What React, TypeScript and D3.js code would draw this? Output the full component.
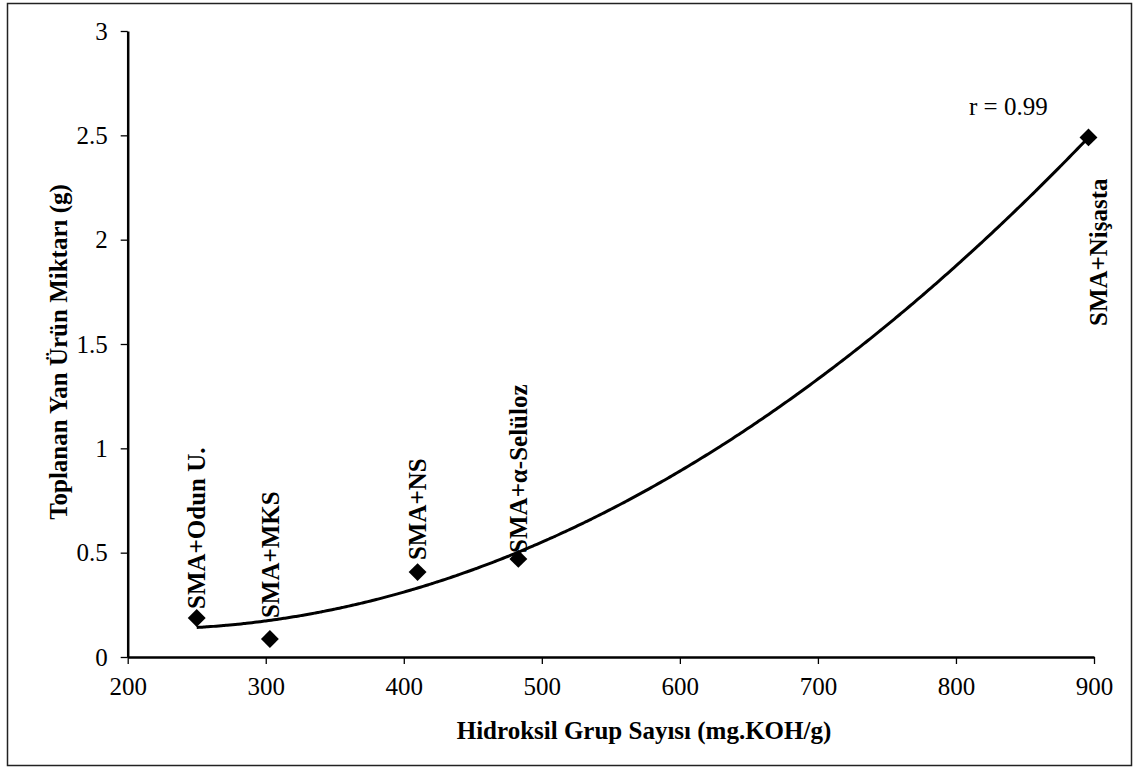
import React, { useEffect, useRef } from 'react';
import * as d3 from 'd3';

// sample labels and measured values
const sampleNames = ['SMA+Odun U.', 'SMA+MKS', 'SMA+NS', 'SMA+\u03B1-Selüloz', 'SMA+Nişasta'];
const hydroxylValues = [250, 303, 410, 483, 896];
const byproductValues = [0.187, 0.086, 0.407, 0.47, 2.49];

const xTicks = [200, 300, 400, 500, 600, 700, 800, 900];
const yTicks = [0, 0.5, 1, 1.5, 2, 2.5, 3];

// label placement (px gap from marker, negative = below the marker)
const labelGap = [9, 21, 12, 6, -41];
const labelDx = [0, 1, 0, 0, 10];

const FONT = '"Liberation Serif", "Times New Roman", serif';

// least squares polynomial of order 2, like the spreadsheet trendline
function quadFit(xs: number[], ys: number[]) {
    const n = xs.length;
    let s = [0, 0, 0, 0, 0];
    let t = [0, 0, 0];
    for (let i = 0; i < n; i++) {
        for (let k = 0; k < 5; k++) s[k] += Math.pow(xs[i], k);
        for (let k = 0; k < 3; k++) t[k] += ys[i] * Math.pow(xs[i], k);
    }
    const m = [
        [s[0], s[1], s[2], t[0]],
        [s[1], s[2], s[3], t[1]],
        [s[2], s[3], s[4], t[2]],
    ];
    for (let c = 0; c < 3; c++) {
        for (let r = c + 1; r < 3; r++) {
            const f = m[r][c] / m[c][c];
            for (let k = c; k < 4; k++) m[r][k] -= f * m[c][k];
        }
    }
    const coef = [0, 0, 0];
    for (let r = 2; r >= 0; r--) {
        let v = m[r][3];
        for (let k = r + 1; k < 3; k++) v -= m[r][k] * coef[k];
        coef[r] = v / m[r][r];
    }
    return (x: number) => coef[0] + coef[1] * x + coef[2] * x * x;
}

export default function App() {
    const ref = useRef<SVGSVGElement | null>(null);

    useEffect(() => {
        const width = 1133;
        const height = 768;
        const svg = d3.select(ref.current);
        svg.selectAll('*').remove();

        const xScale = d3.scaleLinear().domain([200, 900]).range([127.7, 1094]);
        const yScale = d3.scaleLinear().domain([0, 3]).range([657, 31]);

        // outer frame
        svg.append('rect')
            .attr('x', 7.5).attr('y', 3.5)
            .attr('width', width - 9).attr('height', height - 6)
            .attr('fill', 'white')
            .attr('stroke', '#222')
            .attr('stroke-width', 1.5);

        // Y axis
        const yAxis = svg.append('g')
            .attr('transform', `translate(${xScale(200)}, 0)`)
            .call(d3.axisLeft(yScale)
                .tickValues(yTicks)
                .tickFormat(d => String(d))
                .tickSize(7)
                .tickSizeOuter(0)
                .tickPadding(13));
        yAxis.select('.domain').attr('stroke', 'black').attr('stroke-width', 2.5);
        yAxis.selectAll('.tick line').attr('stroke', 'black').attr('stroke-width', 1.3);
        yAxis.selectAll('.tick text')
            .style('font-size', '25px')
            .style('font-family', FONT)
            .attr('fill', 'black');

        // X axis
        const xAxis = svg.append('g')
            .attr('transform', `translate(0, ${yScale(0)})`)
            .call(d3.axisBottom(xScale)
                .tickValues(xTicks)
                .tickFormat(d => String(d))
                .tickSize(7)
                .tickSizeOuter(0)
                .tickPadding(13));
        xAxis.select('.domain').attr('stroke', 'black').attr('stroke-width', 2.5);
        xAxis.selectAll('.tick line').attr('stroke', 'black').attr('stroke-width', 1.3);
        xAxis.selectAll('.tick text')
            .style('font-size', '25px')
            .style('font-family', FONT)
            .attr('fill', 'black');

        // axis titles
        svg.append('text')
            .attr('x', 644)
            .attr('y', 739)
            .attr('text-anchor', 'middle')
            .style('font-size', '25px')
            .style('font-weight', 'bold')
            .style('font-family', FONT)
            .text('Hidroksil Grup Sayısı (mg.KOH/g)');

        svg.append('text')
            .attr('transform', 'translate(67, 352) rotate(-90)')
            .attr('text-anchor', 'middle')
            .style('font-size', '25px')
            .style('font-weight', 'bold')
            .style('font-family', FONT)
            .text('Toplanan Yan Ürün Miktarı (g)');

        // trendline
        const fit = quadFit(hydroxylValues, byproductValues);
        const xMin = d3.min(hydroxylValues) as number;
        const xMax = d3.max(hydroxylValues) as number;
        const curveX = d3.range(xMin, xMax, 2).concat([xMax]);
        const line = d3.line<number>()
            .x(d => xScale(d))
            .y(d => yScale(fit(d)))
            .curve(d3.curveMonotoneX);
        svg.append('path')
            .datum(curveX)
            .attr('d', line)
            .attr('fill', 'none')
            .attr('stroke', 'black')
            .attr('stroke-width', 3);

        // markers
        const diamond = d3.symbol().type(d3.symbolSquare).size(160);
        svg.selectAll('path.marker')
            .data(hydroxylValues)
            .enter()
            .append('path')
            .attr('class', 'marker')
            .attr('d', diamond)
            .attr('transform', (d, i) => `translate(${xScale(d)}, ${yScale(byproductValues[i])}) rotate(45)`)
            .attr('fill', 'black');

        // point labels
        svg.selectAll('text.label')
            .data(sampleNames)
            .enter()
            .append('text')
            .attr('class', 'label')
            .attr('transform', (d, i) => {
                const px = xScale(hydroxylValues[i]) + labelDx[i];
                const py = yScale(byproductValues[i]) - labelGap[i];
                return `translate(${px}, ${py}) rotate(-90)`;
            })
            .attr('text-anchor', (d, i) => labelGap[i] < 0 ? 'end' : 'start')
            .attr('dominant-baseline', 'central')
            .style('font-size', '25px')
            .style('font-weight', 'bold')
            .style('font-family', FONT)
            .text(d => d);

        // correlation note
        svg.append('text')
            .attr('x', 969)
            .attr('y', 115)
            .style('font-size', '25px')
            .style('font-family', FONT)
            .text('r = 0.99');
    }, []);

    return (
        <div style={{ position: 'absolute', left: 0, top: 0 }}>
            <svg ref={ref} width={1133} height={768} style={{ display: 'block' }}></svg>
        </div>
    );
}
